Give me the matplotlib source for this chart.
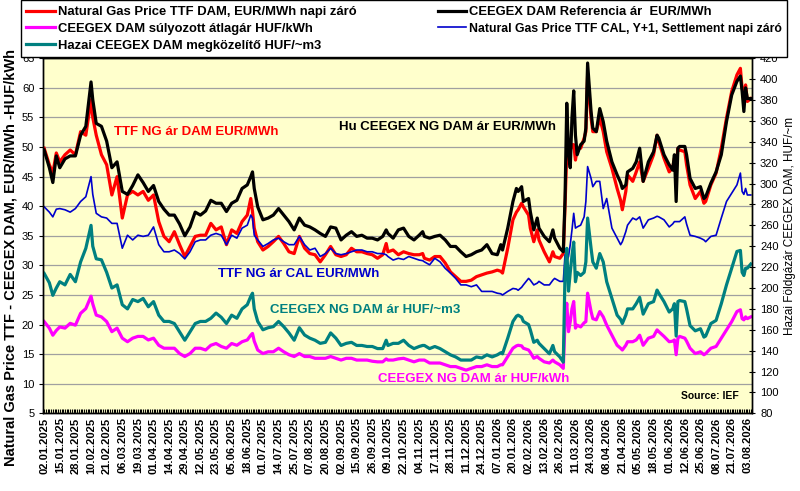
#%% gas price chart (TTF / CEEGEX)
import matplotlib
matplotlib.use('Agg')
import matplotlib.pyplot as plt
from matplotlib.ticker import MultipleLocator

plt.rcParams['font.family'] = ['Liberation Sans', 'DejaVu Sans']

#%% data (x = trading day index)
date_labels = ['02.01.2025', '15.01.2025', '28.01.2025', '10.02.2025', '21.02.2025', '06.03.2025',
               '19.03.2025', '01.04.2025', '14.04.2025', '29.04.2025', '12.05.2025', '23.05.2025',
               '05.06.2025', '18.06.2025', '01.07.2025', '14.07.2025', '25.07.2025', '07.08.2025',
               '20.08.2025', '02.09.2025', '15.09.2025', '26.09.2025', '09.10.2025', '22.10.2025',
               '04.11.2025', '17.11.2025', '28.11.2025', '11.12.2025', '24.12.2025', '07.01.2026',
               '20.01.2026', '02.02.2026', '13.02.2026', '26.02.2026', '11.03.2026', '24.03.2026',
               '08.04.2026', '21.04.2026', '05.05.2026', '18.05.2026', '01.06.2026', '12.06.2026',
               '25.06.2026', '08.07.2026', '21.07.2026', '03.08.2026']

day_idx = [0, 3, 5, 7, 9, 12, 15, 18, 21, 24, 27, 28, 30, 33, 36, 39, 42, 45, 48, 51, 54, 57, 60, 63,
           66, 69, 72, 75, 78, 81, 84, 87, 90, 93, 96, 99, 102,
           105, 108, 111, 114, 117, 119, 120, 121, 123, 126, 129, 132, 135, 138, 141, 144, 147, 150,
           153, 156, 159, 162, 165, 168, 171, 174, 177, 180, 183, 186, 189, 192, 195, 197, 198, 201,
           204, 207,
           210, 213, 216, 218, 219, 222, 225, 228, 231, 234, 237, 240, 243, 246, 249, 252, 255, 258,
           261, 263, 264, 267, 270, 272, 273, 275, 276, 279, 280, 282, 284, 285, 288, 291, 293, 294,
           297, 299,
           300, 301, 302, 303, 304, 305, 306, 307, 309, 311, 312, 313, 315, 316, 318, 320, 322, 324,
           327, 330, 332, 333, 335, 336, 339, 341, 343, 345, 348, 351, 353, 354, 357, 360, 362, 363,
           364, 365, 366, 369, 370, 372, 375, 378, 380, 381, 384, 387, 390, 393, 396, 399, 401, 402,
           403, 404, 405, 407]

# Natural Gas Price TTF DAM, EUR/MWh
ttf_dam = [49.8, 47.0, 45.6, 49.0, 47.5, 48.7, 49.5, 48.7, 52.6, 52.0, 58.0, 55.0, 52.0, 48.7, 47.0,
           41.9, 45.0, 38.0, 41.9, 42.5, 41.9, 42.5, 41.0, 41.9, 37.4, 34.9, 34.0, 35.7, 33.5, 31.5,
           33.2, 34.9, 35.1, 35.1, 37.1, 36.0, 36.5,
           33.5, 36.0, 35.4, 37.4, 38.5, 41.3, 39.1, 36.3, 34.0, 32.6, 33.2, 34.0, 34.9, 33.7, 32.3,
           32.0, 34.9, 32.9, 32.0, 31.8, 30.6, 31.8, 33.2, 31.8, 31.5, 31.8, 32.9, 32.3, 32.3, 32.0,
           31.8, 31.2, 31.8, 33.7, 32.3, 32.6, 31.8, 32.3,
           32.0, 31.8, 31.8, 32.0, 31.2, 30.9, 31.5, 31.5, 30.4, 28.9, 28.1, 27.3, 27.3, 27.5, 28.1,
           28.4, 28.7, 28.9, 29.2, 29.0, 28.7, 32.9, 37.7, 39.0, 39.4, 40.5, 39.9, 38.5, 36.3, 34.0,
           36.0, 34.3, 32.3, 30.6, 32.3, 31.5, 31.2, 32.0,
           40.0, 49.2, 48.7, 49.5, 50.4, 50.4, 47.8, 49.8, 49.8, 51.5, 52.6, 62.2, 54.9, 52.6, 52.6,
           54.9, 52.6, 49.2, 46.4, 43.0, 41.0, 39.4, 42.5, 45.3, 44.2, 45.8, 47.5, 44.2, 46.4, 48.7,
           52.0, 50.9, 48.1, 45.8, 46.5, 48.1, 46.0, 49.8, 49.5, 49.2, 47.0, 43.6, 41.3, 42.5, 40.5,
           40.8, 43.6, 45.6, 49.8, 54.9, 59.4, 62.2, 63.3, 59.9, 58.8, 60.5, 57.7, 58.2]

# CEEGEX DAM Referencia ar EUR/MWh
ceegex_eur = [49.5, 46.5, 44.0, 48.5, 46.5, 48.0, 48.5, 48.5, 52.0, 53.5, 61.0, 58.0, 54.0, 53.5, 51.0,
              46.5, 47.5, 42.5, 42.0, 43.5, 45.3, 44.0, 42.5, 43.5, 40.8, 39.5, 38.5, 38.5, 37.0, 35.0,
              36.5, 39.0, 38.5, 39.2, 41.0, 40.5, 40.5,
              39.1, 40.5, 41.0, 43.0, 43.6, 45.0, 45.8, 43.0, 39.9, 37.7, 38.0, 38.5, 39.6, 38.5, 37.4,
              36.0, 38.0, 36.8, 36.5, 36.0, 35.4, 34.9, 36.5, 36.3, 34.3, 35.1, 35.7, 34.9, 35.1, 34.6,
              34.6, 34.3, 34.9, 36.0, 35.4, 34.6, 36.0, 36.3,
              34.9, 34.3, 35.1, 35.7, 34.9, 34.6, 34.9, 35.1, 34.3, 33.2, 33.2, 32.3, 31.5, 31.8, 32.3,
              32.6, 33.5, 32.0, 31.8, 33.5, 32.6, 36.3, 40.8, 43.0, 42.5, 43.3, 40.8, 41.3, 39.1, 36.0,
              38.0, 36.3, 34.9, 34.0, 36.0, 34.6, 32.9, 32.3,
              41.3, 57.4, 49.2, 46.5, 55.0, 59.5, 52.0, 48.7, 50.4, 51.0, 53.2, 64.2, 56.0, 53.2, 52.6,
              56.5, 54.3, 51.0, 47.5, 45.3, 44.0, 43.0, 43.6, 45.8, 46.4, 47.5, 49.8, 44.2, 47.5, 49.2,
              52.0, 51.5, 48.7, 47.0, 46.1, 48.7, 40.8, 49.8, 50.1, 50.1, 48.7, 44.7, 43.0, 43.3, 41.3,
              41.6, 43.9, 45.8, 48.7, 54.3, 58.8, 61.1, 62.0, 59.4, 56.0, 60.0, 58.2, 58.2]

# CEEGEX DAM sulyozott atlagar HUF/kWh
ceegex_huf_kwh = [20.5, 19.4, 18.2, 19.0, 19.6, 19.4, 20.2, 19.9, 21.9, 22.7, 24.8, 23.5, 21.6, 21.3,
                  20.5, 18.8, 19.4, 17.7, 17.1, 17.7, 18.0, 18.0, 17.4, 17.7, 16.5, 16.0, 16.0, 16.0,
                  15.1, 14.6, 15.1, 16.0, 16.0, 15.7, 16.5, 16.8, 16.3,
                  16.0, 16.8, 16.5, 17.1, 17.4, 18.2, 18.5, 17.2, 15.7, 15.1, 15.4, 15.4, 16.0, 15.4,
                  14.9, 14.6, 15.1, 14.6, 14.6, 14.3, 14.3, 14.3, 14.6, 14.3, 14.0, 14.3, 14.3, 14.0,
                  14.0, 14.0, 13.8, 13.7, 13.7, 14.2, 14.0, 14.0, 14.2, 14.3,
                  14.0, 13.7, 14.0, 14.0, 14.0, 13.5, 13.5, 13.5, 13.2, 12.9, 12.9, 12.6, 12.3, 12.6,
                  12.9, 12.9, 13.2, 12.9, 12.9, 13.2, 13.2, 14.6, 16.0, 16.4, 16.5, 16.4, 16.0, 15.7,
                  15.3, 14.3, 14.6, 14.3, 13.7, 13.5, 14.0, 13.7, 13.2, 12.6,
                  20.5, 23.6, 18.8, 20.5, 22.7, 23.9, 19.4, 19.9, 19.6, 20.3, 20.5, 25.3, 22.2, 21.0,
                  20.8, 22.2, 21.3, 19.9, 18.2, 16.5, 16.0, 15.7, 16.5, 17.1, 17.1, 17.4, 18.2, 16.5,
                  17.7, 18.0, 19.1, 18.8, 18.0, 17.1, 17.2, 17.4, 14.9, 17.7, 18.0, 17.7, 17.2, 16.0,
                  15.1, 15.4, 14.9, 15.1, 16.0, 16.3, 17.7, 19.1, 20.5, 22.2, 22.5, 21.0, 20.8, 21.3,
                  21.0, 21.3]

# Natural Gas Price TTF CAL, Y+1, EUR/MWh
ttf_cal = [39.9, 39.0, 38.2, 39.5, 39.6, 39.4, 39.0, 39.6, 40.8, 41.6, 45.0, 42.0, 38.8, 38.2, 38.0,
           37.1, 37.1, 32.9, 35.1, 34.3, 35.1, 34.9, 35.1, 36.5, 33.5, 32.3, 32.3, 32.6, 32.0, 31.1,
           32.3, 34.0, 34.3, 34.3, 35.1, 35.4, 35.1,
           33.5, 35.1, 34.6, 36.3, 36.8, 38.5, 38.0, 35.1, 34.3, 33.2, 33.7, 34.3, 34.6, 34.0, 33.5,
           33.5, 34.9, 33.5, 32.6, 32.9, 31.5, 32.0, 32.9, 32.0, 31.8, 32.0, 32.3, 32.6, 32.6, 32.3,
           32.3, 32.0, 32.0, 31.8, 31.5, 30.9, 31.2, 31.0,
           31.5, 31.2, 30.9, 30.8, 30.6, 30.1, 31.2, 30.6, 29.5, 28.7, 27.8, 26.7, 26.7, 26.4, 26.7,
           25.6, 25.6, 25.6, 25.3, 25.2, 25.0, 25.6, 26.1, 26.0, 25.8, 26.3, 26.7, 27.8, 27.5, 26.7,
           27.0, 27.3, 26.7, 26.7, 27.5, 27.8, 27.3, 27.3,
           31.8, 30.6, 31.5, 33.5, 36.0, 38.8, 36.3, 36.5, 36.8, 38.2, 40.8, 46.7, 44.7, 43.3, 44.2,
           44.2, 39.6, 41.3, 36.3, 34.6, 33.5, 34.0, 35.7, 36.8, 38.0, 37.7, 38.2, 36.3, 37.7, 38.0,
           38.3, 38.2, 37.7, 36.5, 37.0, 37.4, 37.4, 37.4, 37.4, 38.2, 37.0, 35.1, 34.9, 34.6, 34.3,
           34.0, 34.9, 35.1, 38.0, 40.8, 42.2, 43.6, 45.6, 42.5, 42.0, 43.0, 41.9, 41.9]

# Hazai CEEGEX DAM megkozelito HUF/~m3 (right axis)
ceegex_huf_m3 = [214, 205, 193, 200, 206, 203, 213, 206, 225, 238, 260, 240, 228, 227, 215, 200, 203,
                 184, 180, 189, 187, 190, 182, 187, 174, 168, 168, 166, 158, 150, 158, 166, 168, 168,
                 171, 176, 172,
                 166, 174, 171, 180, 184, 192, 195, 180, 168, 160, 162, 163, 168, 163, 157, 150, 162,
                 155, 152, 150, 147, 148, 157, 152, 145, 147, 148, 145, 145, 144, 144, 142, 142, 150,
                 145, 147, 147, 150,
                 145, 142, 144, 145, 145, 142, 144, 142, 139, 136, 134, 131, 131, 131, 134, 133, 136,
                 134, 136, 138, 137, 152, 168, 173, 174, 172, 168, 165, 160, 148, 150, 147, 142, 137,
                 145, 139, 134, 129,
                 215, 238, 197, 215, 231, 244, 206, 215, 212, 215, 225, 267, 238, 225, 219, 233, 225,
                 206, 190, 174, 170, 166, 174, 180, 180, 185, 191, 175, 185, 187, 198, 195, 187, 177,
                 180, 185, 154, 187, 188, 187, 180, 164, 159, 161, 153, 154, 166, 169, 185, 203, 219,
                 235, 236, 215, 212, 219, 219, 223]

#%% figure
fig = plt.figure(figsize=(8, 4.91), dpi=100)
ax = fig.add_axes([0.0541, 0.1582, 0.8855, 0.7231])
ax.set_facecolor('#FFFFCC')
ax2 = ax.twinx()

ax.set_xlim(-0.5, 407.5)
ax.set_ylim(5, 65)
ax2.set_ylim(80, 420)

ax.set_yticks(range(5, 66, 5))
ax.yaxis.grid(True, color='#A0A0A0', lw=0.9)
ax.set_axisbelow(True)

l_red, = ax.plot(day_idx, ttf_dam, color='#FF0000', lw=2.3)
l_blk, = ax.plot(day_idx, ceegex_eur, color='black', lw=2.3)
l_mag, = ax.plot(day_idx, ceegex_huf_kwh, color='#FF00FF', lw=2.3)
l_blu, = ax.plot(day_idx, ttf_cal, color='#0000CC', lw=1.2)
l_tea, = ax2.plot(day_idx, ceegex_huf_m3, color='#008080', lw=2.3)

# x axis: a date every 9 trading days, a tick on every day
ax.set_xticks(range(0, 9 * len(date_labels), 9))
ax.set_xticklabels(date_labels, rotation=90, fontsize=8, fontweight='bold')
ax.xaxis.set_minor_locator(MultipleLocator(1))
ax.tick_params(axis='x', which='both', direction='in', length=3, width=0.8, pad=3)
ax.tick_params(axis='y', labelsize=8, length=3, direction='out')
ax2.set_yticks(range(80, 421, 20))
ax2.tick_params(axis='y', labelsize=8, length=5, direction='inout')
for a in (ax, ax2):
    for s in a.spines.values():
        s.set_color('black')
        s.set_linewidth(1.0)

# labels inside the plot
ax.text(40, 52.6, 'TTF NG ár DAM EUR/MWh', color='#FF0000', fontsize=9.5, fontweight='bold', va='center')
ax.text(170, 53.4, 'Hu CEEGEX NG DAM ár EUR/MWh', color='black', fontsize=9.5, fontweight='bold', va='center')
ax.text(100, 28.5, 'TTF NG ár CAL EUR/MWh', color='#0000CC', fontsize=9.5, fontweight='bold', va='center')
ax.text(130, 22.5, 'CEEGEX NG DAM ár HUF/~m3', color='#008080', fontsize=9.5, fontweight='bold', va='center')
ax.text(192, 10.8, 'CEEGEX NG DAM ár HUF/kWh', color='#FF00FF', fontsize=9.5, fontweight='bold', va='center')
ax.text(367, 8.0, 'Source: IEF', color='black', fontsize=7.5, fontweight='bold', va='center')

fig.text(0.013, 1 - 257 / 491, 'Natural Gas Price TTF - CEEGEX DAM, EUR/MWh -HUF/kWh',
         rotation=90, fontsize=10.5, fontweight='bold', ha='center', va='center')
fig.text(790 / 800, 1 - 226 / 491, 'Hazai Földgázár CEEGEX DAM, HUF/~m',
         rotation=90, fontsize=8.5, ha='center', va='center')

#%% legend box on top
leg = fig.legend([l_red, l_mag, l_tea, l_blk, l_blu],
                 ['Natural Gas Price TTF DAM, EUR/MWh napi záró',
                  'CEEGEX DAM súlyozott átlagár HUF/kWh',
                  'Hazai CEEGEX DAM megközelítő HUF/~m3',
                  'CEEGEX DAM Referencia ár  EUR/MWh',
                  'Natural Gas Price TTF CAL, Y+1, Settlement napi záró'],
                 ncol=2, loc='upper left', bbox_to_anchor=(0.026, 0.999, 0.958, 0.0), mode='expand',
                 fancybox=False, edgecolor='black', framealpha=1, borderaxespad=0,
                 prop={'weight': 'bold', 'size': 9.4}, handlelength=2.2, handletextpad=0.2,
                 labelspacing=0.36, borderpad=0.42)
leg.get_frame().set_linewidth(1.0)
leg.get_texts()[4].set_fontsize(8.8)

plt.savefig('out.png', dpi=100)
